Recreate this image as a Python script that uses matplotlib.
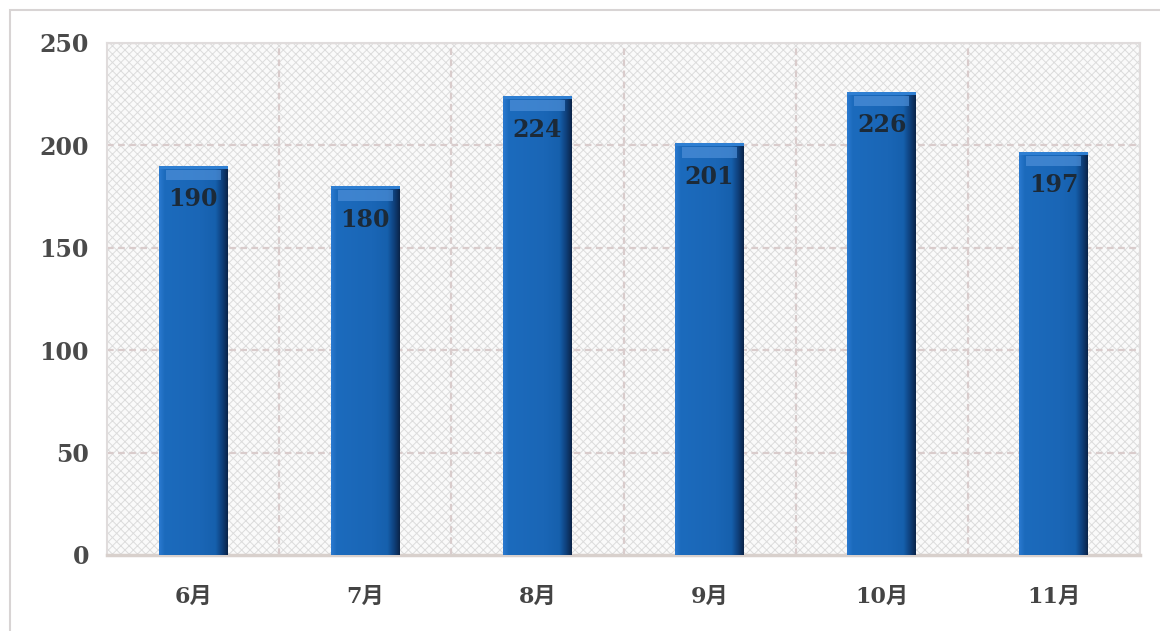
import numpy as np
import matplotlib
matplotlib.use("Agg")
import matplotlib.pyplot as plt
from matplotlib.patches import Rectangle
from matplotlib.colors import LinearSegmentedColormap

months = ["6月", "7月", "8月", "9月", "10月", "11月"]
values = [190, 180, 224, 201, 226, 197]
yticks = [0, 50, 100, 150, 200, 250]

plt.rcParams['hatch.color'] = '#dcdcdc'
plt.rcParams['hatch.linewidth'] = 0.7

fig = plt.figure(figsize=(11.6, 6.31), dpi=100)
ax = fig.add_axes([107/1160, 1 - 555/631, 1033/1160, 512/631])

# outer frame of the picture
fig.patches.append(Rectangle((10/1160, -0.1), 1.2, 1 - 10/631 + 0.1, transform=fig.transFigure,
                             fill=False, edgecolor='#d8d4d4', lw=1.5))

# hatched plot background
ax.add_patch(Rectangle((0, 0), 1, 1, transform=ax.transAxes, facecolor='#fafafa',
                       hatch='xxxx', edgecolor='#dcdcdc', lw=0, zorder=0))

x = np.arange(len(months))
bars = ax.bar(x, values, width=0.4, color='#1a68b8', zorder=3)

# shading across each bar: light left rim, flat middle, dark right rim
cmap = LinearSegmentedColormap.from_list('barshade',
        [(0, '#2b7ad0'), (0.08, '#1c6bbd'), (0.6, '#1a66b6'), (0.82, '#1660ad'),
         (0.92, '#0f3f7a'), (1, '#0a2448')])
grad = np.linspace(0, 1, 256).reshape(1, -1)
for b in bars:
    bx, by = b.get_x(), b.get_y()
    w, h = b.get_width(), b.get_height()
    im = ax.imshow(grad, cmap=cmap, extent=[bx, bx + w, by, by + h], aspect='auto', zorder=4)
    im.set_clip_path(b)
    # light cap at top
    ax.add_patch(Rectangle((bx + w * 0.1, by + h - 7), w * 0.8, 5, facecolor='#4d8fd8',
                           edgecolor='none', alpha=0.7, zorder=5))
    ax.add_patch(Rectangle((bx, by + h - 1.5), w, 1.5, facecolor='#2f7fd2',
                           edgecolor='none', zorder=5))
    ax.annotate(str(int(h)), (bx + w / 2, by + h), xytext=(0, -24), textcoords='offset points',
                ha='center', va='center', fontsize=17, fontweight='bold', color='#1c2a38',
                family=['DejaVu Serif'], zorder=6)

ax.set_xlim(-0.5, len(months) - 0.5)
ax.set_ylim(0, 250)
ax.set_yticks(yticks)
ax.set_xticks(x)
ax.set_xticklabels(months, family=['DejaVu Serif', 'Noto Sans CJK SC'],
                   fontsize=16, fontweight='bold', color='#444444')
ax.set_yticklabels([str(v) for v in yticks], family=['DejaVu Serif'],
                   fontsize=17, fontweight='bold', color='#4a4a4a')
ax.tick_params(length=0, axis='y', pad=13)
ax.tick_params(length=0, axis='x', pad=22)

# grid lines
for v in yticks[1:]:
    ax.axhline(v, color='#d9cccc', lw=1.6, ls=(0, (3, 2)), zorder=1)
for b in np.arange(0.5, len(months) - 0.5, 1):
    ax.axvline(b, color='#d9cccc', lw=1.6, ls=(0, (3, 2)), zorder=1)

for s in ['left', 'top', 'right']:
    ax.spines[s].set_color('#e0dcdc')
    ax.spines[s].set_linewidth(1.5)
ax.spines['bottom'].set_color('#d8d0cc')
ax.spines['bottom'].set_linewidth(2.5)

fig.savefig('out.png', dpi=100)
